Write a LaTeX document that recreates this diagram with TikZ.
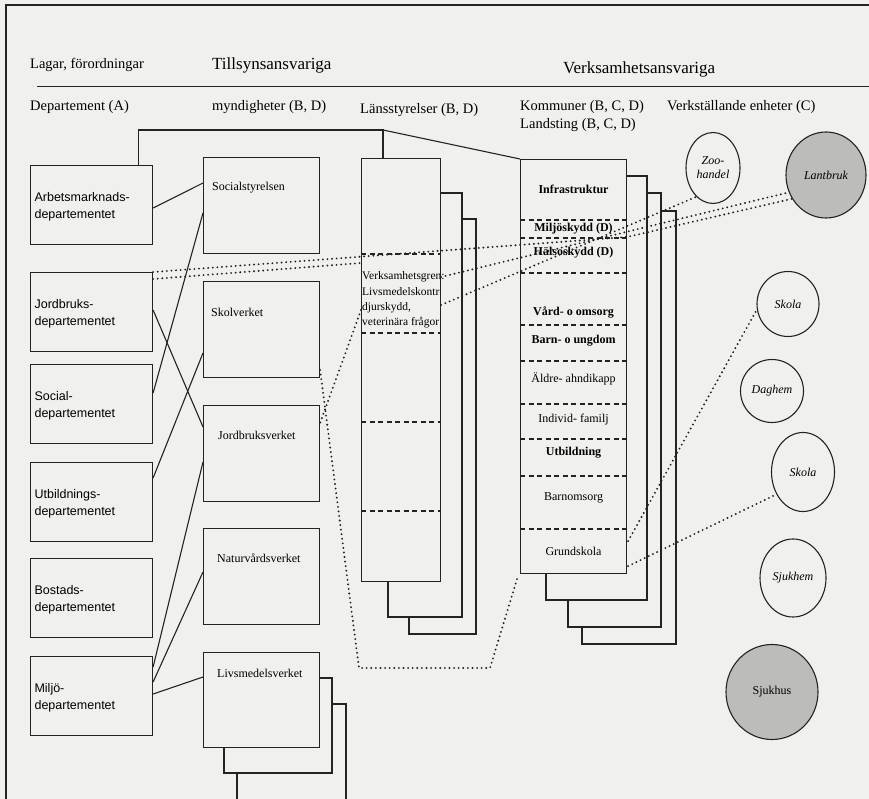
\documentclass[tikz,border=0pt]{standalone}
\usepackage{fontspec}
\setmainfont{Liberation Serif}
\newfontfamily\arialfont{Liberation Sans}
\usetikzlibrary{shapes.geometric}

\definecolor{paper}{RGB}{240,240,238}
\definecolor{ink}{RGB}{35,35,35}
\definecolor{shade}{RGB}{188,188,186}

\tikzset{
  headbig/.style={inner sep=0pt, font=\fontsize{17}{20}\selectfont},
  headsub/.style={inner sep=0pt, font=\fontsize{14.5}{17}\selectfont},
  deptbox/.style={draw=ink, line width=1.1pt, fill=paper, anchor=north west,
    minimum width=122pt, minimum height=79pt, inner sep=4pt, align=left,
    text width=114pt, text depth=16pt, font=\arialfont\fontsize{12.5}{17}\selectfont},
  mynbox/.style={draw=ink, line width=1.1pt, fill=paper, anchor=north west,
    minimum width=116pt, minimum height=96pt, inner sep=0pt},
  myntext/.style={anchor=west, inner sep=0pt, font=\fontsize{12}{14}\selectfont},
  tallbox/.style={draw=ink, line width=1.1pt, fill=paper, anchor=north west, inner sep=0pt},
  backbox/.style={draw=ink, line width=1.1pt, fill=paper},
  komtext/.style={inner sep=0pt, font=\fontsize{12}{14}\selectfont},
  sep/.style={ink, line width=1.1pt, dash pattern=on 5pt off 3.5pt},
  link/.style={ink, line width=1.1pt},
  dotline/.style={ink, line width=2.1pt, line cap=round, dash pattern=on 0pt off 4.6pt},
  unit/.style={ellipse, draw=ink, line width=1.1pt, fill=paper, inner sep=0pt,
    align=center, font=\itshape\fontsize{12}{14}\selectfont},
  shadedunit/.style={unit, fill=shade}
}

\begin{document}
\begin{tikzpicture}[x=1pt, y=-1pt]
  % paper
  \useasboundingbox (0,0) rectangle (869,799);
  \fill[paper] (0,0) rectangle (869,799);
  \draw[ink, line width=1.5pt] (6,799) -- (6,5) -- (869,5);

  % Headings
  \node[headsub, anchor=west] (h-lagar) at (30,65) {Lagar, förordningar};
  \node[headbig, anchor=west] (h-tills) at (212,65) {Tillsynsansvariga};
  \node[headbig, anchor=west] (h-verks) at (563,69) {Verksamhetsansvariga};
  \draw[ink, line width=1.3pt] (37,86.5) -- (869,86.5);
  \node[headsub, anchor=west] (h-dep) at (30,107) {Departement (A)};
  \node[headsub, anchor=west] (h-myn) at (212,107) {myndigheter (B, D)};
  \node[headsub, anchor=west] (h-lans) at (360,110) {Länsstyrelser (B, D)};
  \node[headsub, anchor=west] (h-komm) at (520,107) {Kommuner (B, C, D)};
  \node[headsub, anchor=west] (h-land) at (520,125) {Landsting (B, C, D)};
  \node[headsub, anchor=west] (h-enh) at (667,107) {Verkställande enheter (C)};

  % Departement
  \node[deptbox] (arb) at (30,165) {Arbetsmarknads-\\departementet};
  \node[deptbox] (jord) at (30,272) {Jordbruks-\\departementet};
  \node[deptbox] (socd) at (30,364) {Social-\\departementet};
  \node[deptbox] (utb) at (30,462) {Utbildnings-\\departementet};
  \node[deptbox] (bost) at (30,558) {Bostads-\\departementet};
  \node[deptbox] (milj) at (30,656) {Miljö-\\departementet};

  % Myndigheter
  \node[mynbox] (socst) at (203,157) {};
  \node[mynbox] (skol) at (203,281) {};
  \node[mynbox] (jordv) at (203,405) {};
  \node[mynbox] (natur) at (203,528) {};
  \draw[backbox] (237,704) rectangle (346,812);
  \draw[backbox] (224,678) rectangle (332,773);
  \node[mynbox, minimum height=95pt] (livs) at (203,652) {};
  \node[myntext] (socst-t) at ([xshift=9pt,yshift=-31pt]socst.north west) {Socialstyrelsen};
  \node[myntext] (skol-t) at ([xshift=8pt,yshift=-31pt]skol.north west) {Skolverket};
  \node[myntext] (jordv-t) at ([xshift=15pt,yshift=-30pt]jordv.north west) {Jordbruksverket};
  \node[myntext] (natur-t) at ([xshift=14pt,yshift=-30pt]natur.north west) {Naturvårdsverket};
  \node[myntext] (livs-t) at ([xshift=14pt,yshift=-21pt]livs.north west) {Livsmedelsverket};

  % Länsstyrelser
  \draw[backbox] (409,219) rectangle (476,634);
  \draw[backbox] (388,193) rectangle (462,617);
  \node[tallbox, minimum width=79pt, minimum height=423pt] (lans) at (361,158) {};
  \foreach \y in {254,333,422,511}
    \draw[sep] (361,\y) -- (440,\y);
  \node[anchor=west, inner sep=1pt, align=left, font=\fontsize{11.5}{15.3}\selectfont]
    (lans-t) at ([yshift=-142pt]lans.north west)
    {Verksamhetsgren:\\Livsmedelskontr\\djurskydd,\\veterinära frågor};

  % Kommuner och landsting
  \draw[backbox] (582,211) rectangle (676,644);
  \draw[backbox] (568,193) rectangle (661,627);
  \draw[backbox] (546,176) rectangle (647,600);
  \node[tallbox, minimum width=106pt, minimum height=414pt] (kom) at (520,159) {};
  \foreach \y in {220,238,273,325,361,404,439,476,529}
    \draw[sep] (520,\y) -- (626,\y);
  \node[komtext, font=\bfseries\fontsize{12}{14}\selectfont] (k-infra) at ([yshift=-30pt]kom.north) {Infrastruktur};
  \node[komtext, font=\bfseries\fontsize{12}{14}\selectfont] (k-milj) at ([yshift=-70pt]kom.north) {Miljöskydd (D)};
  \node[komtext, font=\bfseries\fontsize{12}{14}\selectfont] (k-hals) at ([yshift=-94pt]kom.north) {Hälsoskydd (D)};
  \node[komtext, font=\bfseries\fontsize{12}{14}\selectfont] (k-vard) at ([yshift=-153pt]kom.north) {Vård- o omsorg};
  \node[komtext, font=\bfseries\fontsize{12}{14}\selectfont] (k-barn) at ([yshift=-182pt]kom.north) {Barn- o ungdom};
  \node[komtext] (k-aldre) at ([yshift=-220pt]kom.north) {Äldre- ahndikapp};
  \node[komtext] (k-indiv) at ([yshift=-261pt]kom.north) {Individ- familj};
  \node[komtext, font=\bfseries\fontsize{12}{14}\selectfont] (k-utb) at ([yshift=-294pt]kom.north) {Utbildning};
  \node[komtext] (k-bo) at ([yshift=-339pt]kom.north) {Barnomsorg};
  \node[komtext] (k-grund) at ([yshift=-392pt]kom.north) {Grundskola};

  % Verkställande enheter
  \node[unit, minimum width=54pt, minimum height=71pt] (zoo) at (713,168) {Zoo-\\handel};
  \node[shadedunit, minimum width=80pt, minimum height=86pt] (lantbruk) at (826,175) {Lantbruk};
  \node[unit, minimum width=62pt, minimum height=65pt] (skola1) at (788,304) {Skola};
  \node[unit, minimum width=63pt, minimum height=63pt] (daghem) at (772,391) {Daghem};
  \node[unit, minimum width=63pt, minimum height=79pt] (skola2) at (803,472) {Skola};
  \node[unit, minimum width=66pt, minimum height=78pt] (sjukhem) at (793,578) {Sjukhem};
  \node[shadedunit, minimum width=92pt, minimum height=95pt, font=\fontsize{12}{14}\selectfont] (sjukhus) at (772,692) {Sjukhus};

  % Solid links departement - myndigheter
  \draw[link] ([yshift=-43pt]arb.north east) -- ([yshift=-26pt]socst.north west);
  \draw[link] ([yshift=-29pt]socd.north east) -- ([yshift=-56pt]socst.north west);
  \draw[link] ([yshift=-38pt]jord.north east) -- ([yshift=-22pt]jordv.north west);
  \draw[link] ([yshift=-16pt]utb.north east) -- ([yshift=-72pt]skol.north west);
  \draw[link] ([yshift=-11pt]milj.north east) -- ([yshift=-57pt]jordv.north west);
  \draw[link] ([yshift=-26pt]milj.north east) -- ([yshift=-44pt]natur.north west);
  \draw[link] ([yshift=-38pt]milj.north east) -- ([yshift=-25pt]livs.north west);

  % Bracket over the columns
  \coordinate (brk) at (383,130);
  \draw[link] ([xshift=-15pt]arb.north east) |- (brk) -- ([xshift=22pt]lans.north west);
  \draw[link] (brk) -- (kom.north west);

  % Dotted links
  \draw[dotline] (jord.north east) -- ([yshift=-78pt]kom.north east) -- (lantbruk.215);
  \draw[dotline] ([yshift=-7pt]jord.north east) -- ([yshift=-105pt]lans.north west);
  \draw[dotline] ([yshift=-119pt]lans.north east) -- (lantbruk.205);
  \draw[dotline] ([yshift=-147pt]lans.north east) -- (zoo.240);
  \draw[dotline] ([yshift=-152pt]lans.north west) -- ([yshift=-18pt]jordv.north east);
  \coordinate (d-low1) at (359,668);
  \coordinate (d-low2) at (490,668);
  \draw[dotline] ([yshift=-89pt]skol.north east) -- (d-low1) -- (d-low2) -- ([xshift=-3pt,yshift=-5pt]kom.south west);
  \draw[dotline] ([xshift=1pt,yshift=33pt]kom.south east) -- (skola1.190);
  \draw[dotline] ([xshift=1pt,yshift=8pt]kom.south east) -- (skola2.220);
\end{tikzpicture}
\end{document}
